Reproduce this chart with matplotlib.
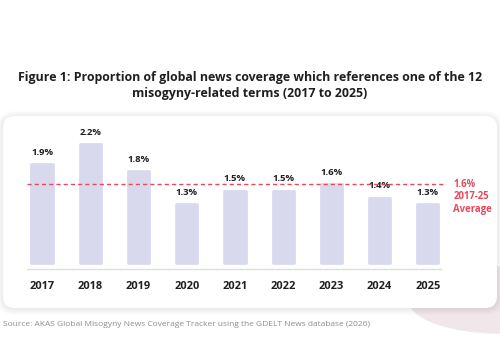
import matplotlib.pyplot as plt
from matplotlib.patches import FancyBboxPatch, Ellipse

plt.rcParams['font.family'] = ['Open Sans', 'DejaVu Sans']

# data
years = ['2017', '2018', '2019', '2020', '2021', '2022', '2023', '2024', '2025']
share = [1.9, 2.2, 1.8, 1.3, 1.5, 1.5, 1.6, 1.4, 1.3]
avg_share = 1.6
avg_label = ['1.6%', '2017-25', 'Average']
title = ('Figure 1: Proportion of global news coverage which references one of the 12\n'
         'misogyny-related terms (2017 to 2025)')
source = 'Source: AKAS Global Misogyny News Coverage Tracker using the GDELT News database (2026)'

bar_col = '#D9D9EE'
red = '#E8485C'
dark = '#1f1f1f'

base = 0.42     # value where the bars start
k = 66.4        # pixels per unit of share

fig = plt.figure(figsize=(5, 3.57), dpi=100)

# background layer in pixel units
bg = fig.add_axes([0, 0, 1, 1])
bg.set_xlim(0, 500)
bg.set_ylim(357, 0)
bg.axis('off')
bg.add_patch(Ellipse((500, 300), 182, 66, color='#F1E7EB', zorder=0))
for i in range(1, 7):
    bg.add_patch(FancyBboxPatch((3 - i, 116 - i + 1), 494 + 2 * i, 192 + 2 * i,
                                boxstyle='round,pad=0,rounding_size=%d' % (12 + i),
                                fc=(0, 0, 0, 0.012), ec='none', zorder=1))
bg.add_patch(FancyBboxPatch((3, 116), 494, 192, boxstyle='round,pad=0,rounding_size=12',
                            fc='white', ec='none', zorder=2))
bg.text(250, 85.5, title, ha='center', va='center', fontsize=8.9, fontweight='bold',
        color=dark, linespacing=1.3)
bg.text(3, 325, source, ha='left', va='center', fontsize=6.05, color='#8c8c8c')

# chart
ax = fig.add_axes([17.9 / 500, (357 - 269) / 357, 434 / 500, 139 / 357])
ax.set_facecolor('none')
y0 = base - 6.4 / k
ax.set_ylim(y0, y0 + 139 / k)
ax.set_xlim(-0.5, 8.5)
for s in ax.spines.values():
    s.set_visible(False)

x = list(range(len(years)))
ax.bar(x, [v - base for v in share], bottom=base, width=0.44, color=bar_col,
       edgecolor=bar_col, linewidth=2, joinstyle='round', zorder=2)

for i, v in enumerate(share):
    ax.annotate(f'{v}%', (i, v), xytext=(0, 8.6), textcoords='offset points',
                ha='center', va='center', fontsize=6.8, fontweight='bold', color=dark)

ax.axhline(y0, xmin=0.021, xmax=0.975, color='#DDDDDD', lw=1, clip_on=False)
ax.axhline(avg_share, xmin=0.021, xmax=0.986, color=red, lw=1, ls=(0, (3, 2.2)),
           zorder=3)

for j, t in enumerate(avg_label):
    ax.annotate(t, (1, avg_share), xycoords=ax.get_yaxis_transform(),
                xytext=(1, -9 * j), textcoords='offset points', ha='left', va='center',
                fontsize=6.9, fontweight='bold', color=red, annotation_clip=False)

ax.set_xticks(x, years)
ax.set_yticks([])
ax.tick_params(axis='x', length=0, pad=8.5, labelsize=7.9, labelcolor=dark)
for lab in ax.get_xticklabels():
    lab.set_fontweight('bold')

fig.savefig('out.png', dpi=100)
